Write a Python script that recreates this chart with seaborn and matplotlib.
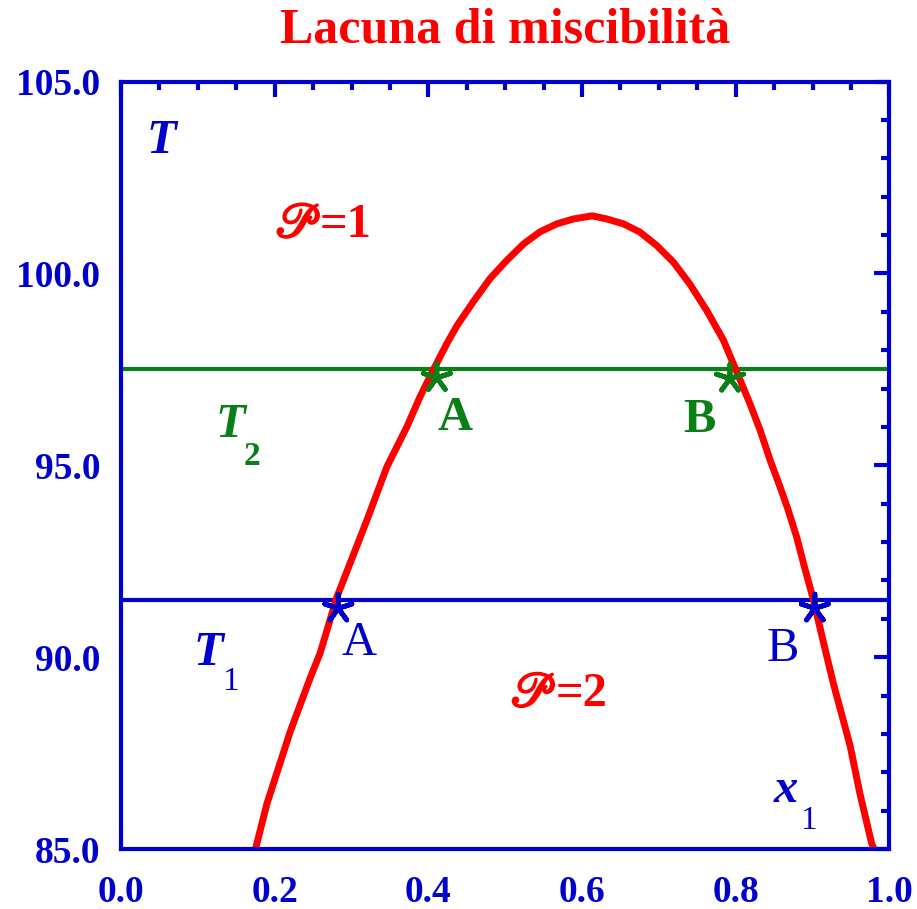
import pandas as pd
import matplotlib.pyplot as plt
import matplotlib.patheffects as pe
import seaborn as sns
from matplotlib.ticker import MultipleLocator, FormatStrFormatter

sns.set_style('white')
plt.rcParams['font.family'] = ['Liberation Serif', 'DejaVu Serif']
plt.rcParams['font.weight'] = 'bold'

# curva della lacuna di miscibilità
x1_curve = [0.175, 0.190, 0.211, 0.220, 0.233, 0.246, 0.259, 0.281, 0.298, 0.320,
            0.346, 0.372, 0.389, 0.406, 0.424, 0.437, 0.458, 0.480, 0.502, 0.524,
            0.545, 0.567, 0.589, 0.613, 0.632, 0.654, 0.675, 0.697, 0.719, 0.740,
            0.762, 0.784, 0.801, 0.819, 0.832, 0.845, 0.858, 0.868, 0.879, 0.890,
            0.901, 0.914, 0.927, 0.938, 0.949, 0.962, 0.977, 0.980]
T_curve = [85.0, 86.19, 87.49, 88.05, 88.75, 89.45, 90.10, 91.57, 92.44, 93.57,
           94.96, 96.00, 96.78, 97.47, 98.17, 98.63, 99.25, 99.86, 100.34, 100.77,
           101.08, 101.29, 101.42, 101.50, 101.42, 101.29, 101.08, 100.73, 100.29, 99.73,
           99.04, 98.26, 97.45, 96.58, 95.90, 95.12, 94.42, 93.85, 93.15, 92.31,
           91.50, 90.40, 89.32, 88.50, 87.68, 86.41, 85.14, 85.0]

T1 = 91.5
T2 = 97.5

star_x = [0.411, 0.7925, 0.2828, 0.903]
star_T = [97.28, 97.26, 91.27, 91.27]
star_set = ['T2', 'T2', 'T1', 'T1']

blue = '#0000CC'
red = '#FF0000'
green = '#0A7F17'

stars = pd.DataFrame({'x': star_x, 'T': star_T, 'set': star_set})

fig = plt.figure(figsize=(9.17, 9.09), dpi=100)
ax = fig.add_axes([0.132, 0.066, 0.8379, 0.8443])

ax.axhline(T2, color=green, lw=3)
ax.axhline(T1, color=blue, lw=3)
sns.lineplot(x=x1_curve, y=T_curve, color=red, lw=5, sort=False, ax=ax)
sns.scatterplot(data=stars, x='x', y='T', hue='set', palette={'T2': green, 'T1': blue},
                marker=(5, 2, 0), s=420, linewidth=3.5, legend=False, ax=ax, zorder=5)

ax.set_xlim(0, 1)
ax.set_ylim(85, 105)
ax.set_xlabel('')
ax.set_ylabel('')
ax.xaxis.set_major_locator(MultipleLocator(0.2))
ax.xaxis.set_minor_locator(MultipleLocator(0.05))
ax.yaxis.set_major_locator(MultipleLocator(5))
ax.yaxis.set_minor_locator(MultipleLocator(1))
ax.xaxis.set_major_formatter(FormatStrFormatter('%.1f'))
ax.yaxis.set_major_formatter(FormatStrFormatter('%.1f'))
ax.tick_params(which='both', direction='in', top=True, right=True, color=blue, width=3)
ax.tick_params(which='major', length=11, labelsize=27, labelcolor=blue)
ax.tick_params(which='minor', length=6)
ax.tick_params(axis='x', pad=19)
ax.tick_params(axis='y', pad=15)
for sp in ax.spines.values():
    sp.set_color(blue)
    sp.set_linewidth(3)

ax.set_title('Lacuna di miscibilità', color=red, fontsize=36, fontweight='bold', pad=28)

# etichette
script_P = '\U0001D4AB'
P_fonts = ['STIXGeneral', 'DejaVu Sans', 'DejaVu Serif']
P_bold = [pe.withStroke(linewidth=1.6, foreground=red)]
ax.text(0.259, 100.95, script_P, color=red, fontsize=35, fontweight='normal',
        family=P_fonts, ha='right', path_effects=P_bold)
ax.text(0.259, 100.95, '=1', color=red, fontsize=35, ha='left')
ax.text(0.565, 88.72, script_P, color=red, fontsize=35, fontweight='normal',
        family=P_fonts, ha='right', path_effects=P_bold)
ax.text(0.565, 88.72, '=2', color=red, fontsize=35, ha='left')
ax.text(0.053, 103.15, 'T', color=blue, fontsize=35, style='italic', ha='center')
ax.text(0.142, 95.73, 'T', color=green, fontsize=35, style='italic', ha='center')
ax.text(0.170, 95.0, '2', color=green, fontsize=24, ha='center')
ax.text(0.1132, 89.79, 'T', color=blue, fontsize=35, style='italic', ha='center')
ax.text(0.1418, 89.14, '1', color=blue, fontsize=24, fontweight='normal', ha='center')
ax.text(0.4346, 95.91, 'A', color=green, fontsize=35, ha='center')
ax.text(0.7534, 95.87, 'B', color=green, fontsize=35, ha='center')
ax.text(0.3097, 90.05, 'A', color=blue, fontsize=35, fontweight='normal', ha='center')
ax.text(0.8608, 89.91, 'B', color=blue, fontsize=35, fontweight='normal', ha='center')
ax.text(0.865, 86.23, 'x', color=blue, fontsize=35, style='italic', ha='center')
ax.text(0.894, 85.51, '1', color=blue, fontsize=24, fontweight='normal', ha='center')

fig.savefig('out.png', dpi=100)
